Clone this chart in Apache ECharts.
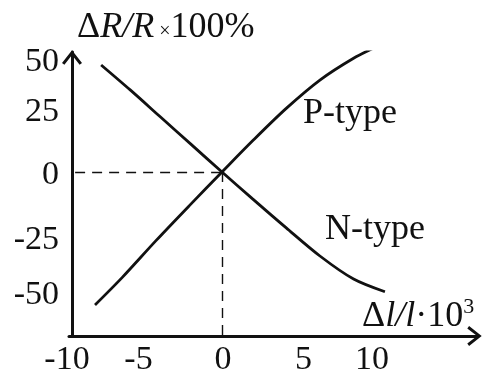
<!DOCTYPE html>
<html>
<head>
<meta charset="utf-8">
<script src="https://cdn.jsdelivr.net/npm/echarts@6/dist/echarts.min.js"></script>
<style>
  html, body { margin: 0; padding: 0; background: #fff; }
  #chart { width: 483px; height: 374px; }
</style>
</head>
<body>
<div id="chart"></div>
<script>
// Strain (Δl/l ·10^3) vs relative resistance change (ΔR/R ×100%)
const xTicks = [-10, -5, 0, 5, 10];
const yTicks = [-50, -25, 0, 25, 50];

const pTypeX = [-8.3, -6.5, -4.3, -2.1, 0, 2.05, 4.2, 6.4, 8.6, 10.1];
const pTypeY = [-55.4, -43.8, -28.5, -13.8, 0, 13.3, 26.5, 38.3, 47.4, 52.2];

const nTypeX = [-7.9, -6, -4, -2, 0, 2, 4.2, 6.4, 8.6, 10.65];
const nTypeY = [44.6, 34.2, 22.8, 11.4, 0, -11.2, -23.3, -35, -44.6, -49.9];

const X_MIN = -10, X_MAX = 16.7;
const Y_MIN = -68.33, Y_MAX = 50;

const INK = '#111';
const SERIF = '"Liberation Serif", "Times New Roman", serif';
// open chevron arrow head, tip pointing up
const ARROW = 'path://M10,0 L20,12.6 L17.6,14.4 L10,4.6 L2.4,14.4 L0,12.6 Z';

const zip = (xs, ys) => xs.map((x, i) => [x, ys[i]]);

// hand-set nudges of the tick labels (pixels): down for y, right for x
const yNudge = { '50': 10, '25': 0, '0': 3, '-25': 8, '-50': 3 };
const xNudge = { '-10': -2, '-5': -7, '0': 1, '5': 5, '10': -3 };
const key = v => 'k' + String(v).replace('-', 'm');

const tickFont = { fontSize: 34, fontFamily: SERIF, color: INK };
const yRich = {}, xRich = {};
yTicks.forEach(v => {
  const d = yNudge[String(v)] || 0;
  yRich[key(v)] = Object.assign({}, tickFont, { padding: d >= 0 ? [2 * d, 0, 0, 0] : [0, 0, -2 * d, 0] });
});
xTicks.forEach(v => {
  const d = xNudge[String(v)] || 0;
  xRich[key(v)] = Object.assign({}, tickFont, { padding: d >= 0 ? [0, 0, 0, 2 * d] : [0, -2 * d, 0, 0] });
});

const chart = echarts.init(document.getElementById('chart'), null, { renderer: 'canvas' });

chart.setOption({
  backgroundColor: '#fff',
  animation: false,
  grid: { left: 69, right: 5.5, top: 52, bottom: 38, outerBoundsMode: 'none' },
  xAxis: {
    type: 'value', min: X_MIN, max: X_MAX,
    splitLine: { show: false },
    axisTick: { show: false },
    axisLine: {
      onZero: false,
      lineStyle: { color: INK, width: 3 },
      symbol: ['none', ARROW], symbolSize: [20, 15], symbolOffset: [0, -3]
    },
    axisLabel: {
      customValues: xTicks, margin: 7,
      formatter: v => '{' + key(v) + '|' + v + '}',
      rich: xRich
    }
  },
  yAxis: {
    type: 'value', min: Y_MIN, max: Y_MAX, offset: -3,
    splitLine: { show: false },
    axisTick: { show: false },
    axisLine: {
      onZero: false,
      lineStyle: { color: INK, width: 3 },
      symbol: ['none', ARROW], symbolSize: [20, 15], symbolOffset: [0, -5.5]
    },
    axisLabel: {
      customValues: yTicks, margin: 13,
      formatter: v => '{' + key(v) + '|' + v + '}',
      rich: yRich
    }
  },
  series: [
    {
      name: 'P-type', type: 'line', data: zip(pTypeX, pTypeY),
      smooth: 0.3, showSymbol: false, silent: true,
      lineStyle: { color: INK, width: 2.8 },
      markLine: {
        silent: true, symbol: 'none', label: { show: false },
        lineStyle: { color: INK, width: 1.4, type: [10, 7] },
        data: [
          [{ coord: [-9.6, 0] }, { coord: [0, 0] }],
          [{ coord: [0, 0] }, { coord: [0, Y_MIN] }]
        ]
      }
    },
    {
      name: 'N-type', type: 'line', data: zip(nTypeX, nTypeY),
      smooth: 0.3, showSymbol: false, silent: true,
      lineStyle: { color: INK, width: 2.8 }
    }
  ],
  graphic: [
    {
      type: 'text', left: 77, top: 10,
      style: {
        text: '{u|Δ}{i|R/R}{s| ×}{u|100%}',
        fill: INK,
        rich: {
          u: { fontSize: 36, fontFamily: SERIF, fill: INK },
          i: { fontSize: 36, fontFamily: SERIF, fontStyle: 'italic', fill: INK },
          s: { fontSize: 20, fontFamily: SERIF, fill: INK, padding: [8, 0, 0, 0] }
        }
      }
    },
    {
      type: 'text', left: 362, top: 296,
      style: {
        text: '{u|Δ}{i|l/l}{u|·10}{sup|3}',
        fill: INK,
        rich: {
          u: { fontSize: 36, fontFamily: SERIF, fill: INK },
          i: { fontSize: 36, fontFamily: SERIF, fontStyle: 'italic', fill: INK },
          sup: { fontSize: 22, fontFamily: SERIF, fill: INK, padding: [0, 0, 20, 0] }
        }
      }
    },
    {
      type: 'text', left: 303, top: 96,
      style: { text: 'P-type', fill: INK, fontSize: 36, fontFamily: SERIF }
    },
    {
      type: 'text', left: 325, top: 212,
      style: { text: 'N-type', fill: INK, fontSize: 36, fontFamily: SERIF }
    }
  ]
});
</script>
</body>
</html>
